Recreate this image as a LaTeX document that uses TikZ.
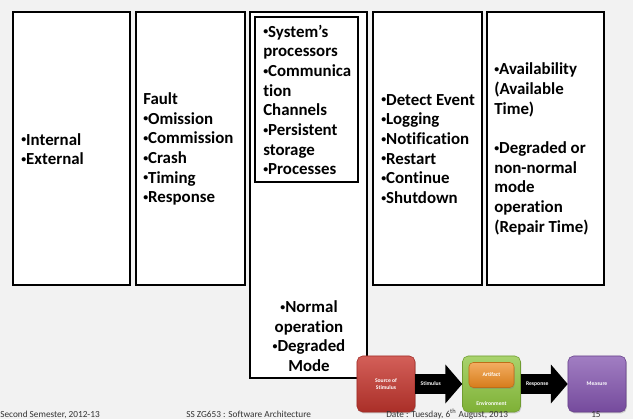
\documentclass[tikz,border=0pt]{standalone}
\usepackage{fontspec}
\setmainfont{Carlito}[Ligatures=NoCommon]
\usetikzlibrary{positioning,arrows.meta,shadows}

\definecolor{slidebg}{HTML}{F2F2F2}
\definecolor{srcred}{HTML}{C8372F}
\definecolor{envgreen}{HTML}{8CC43C}
\definecolor{artorange}{HTML}{EE8A1E}
\definecolor{measpurple}{HTML}{8253AE}
\newcommand{\bul}{\raisebox{0.28ex}{\fontsize{7}{7}\selectfont•}}

\begin{document}
\begin{tikzpicture}[x=0.025cm, y=-0.025cm]
        \tikzset{panel/.style={draw, line width=1.4pt, fill=white}}
        \tikzset{panel text/.style={inner sep=0pt, align=left, font=\bfseries\fontsize{12}{14}\selectfont}}
        \tikzset{stage box/.style={rounded corners=4pt, minimum width=1.45cm, minimum height=1.4cm, text=white, align=center, font=\bfseries\fontsize{4}{5}\selectfont, drop shadow={opacity=0.35, shadow xshift=0.6pt, shadow yshift=-1pt}}}
        \tikzset{flow/.style={line width=0.5cm, black, -{Triangle[length=0.42cm, width=0.95cm]}}}
        \tikzset{flow label/.style={text=white, font=\bfseries\fontsize{4}{5}\selectfont}}
        \tikzset{footer/.style={anchor=base west, inner sep=0pt, text=black!80, font=\fontsize{6.6}{8}\selectfont}}

        \useasboundingbox (0,0) rectangle (633,419);
        \clip (0,0) rectangle (633,419);
        \fill[slidebg] (0,0) rectangle (633,419);

        % the six columns
        \draw[panel] (13,12) rectangle (130,285);
        \node[panel text, anchor=west] (source list) at (21,149) {\bul Internal\\\bul External};

        \draw[panel] (136,12) rectangle (245,285);
        \node[panel text, anchor=west] (stimulus list) at (143,149) {Fault\\\bul Omission\\\bul Commission\\\bul Crash\\\bul Timing\\\bul Response};

        \draw[panel] (250,12) rectangle (367,378);
        \draw[panel] (255,17) rectangle (358,182);
        \node[panel text, anchor=west] (artifact list) at (263,100) {\bul System’s\\processors\\\bul Communica\\tion\\Channels\\\bul Persistent\\storage\\\bul Processes};
        \node[panel text, align=center] (env list) at (309,336) {\bul Normal\\operation\\\bul Degraded\\Mode};

        \draw[panel] (373,12) rectangle (482,285);
        \node[panel text, anchor=west] (response list) at (381,149) {\bul Detect Event\\\bul Logging\\\bul Notification\\\bul Restart\\\bul Continue\\\bul Shutdown};

        \draw[panel] (487,12) rectangle (604,285);
        \node[panel text, anchor=west] (measure list) at (494,149) {\bul Availability\\(Available\\Time)\\[14pt]\bul Degraded or\\non-normal\\mode\\operation\\(Repair Time)};

        % scenario strip
        \node[stage box, draw=srcred!80!black, top color=srcred!80!white, bottom color=srcred!85!black] (source) at (386,384) {Source of\\Stimulus};
        \node[stage box, draw=envgreen!80!black, top color=envgreen!75!white, bottom color=envgreen!90!black] (env) at (491.5,384) {};
        \node[stage box, minimum width=1.125cm, minimum height=0.625cm, rounded corners=3pt, draw=artorange!80!black, top color=artorange!70!white, bottom color=artorange!90!black] (artifact) at (491.5,375) {Artifact};
        \node[flow label] (env label) at (491.5,404) {Environment};
        \node[stage box, draw=measpurple!80!black, top color=measpurple!75!white, bottom color=measpurple!90!black] (measure) at (597,384) {Measure};

        \draw[flow] (source) -- (env) node[flow label, pos=0.33] {Stimulus};
        \draw[flow] (env) -- (measure) node[flow label, pos=0.35] {Response};

        % footer line
        \node[footer] (semester) at (0,418) {Second Semester, 2012-13};
        \node[footer] (course) at (186,418) {SS ZG653 : Software Architecture};
        \node[footer] (date) at (386,418) {Date : Tuesday, 6\textsuperscript{th} August, 2013};
        \node[footer] (page) at (591,418) {15};
    \end{tikzpicture}
\end{document}
